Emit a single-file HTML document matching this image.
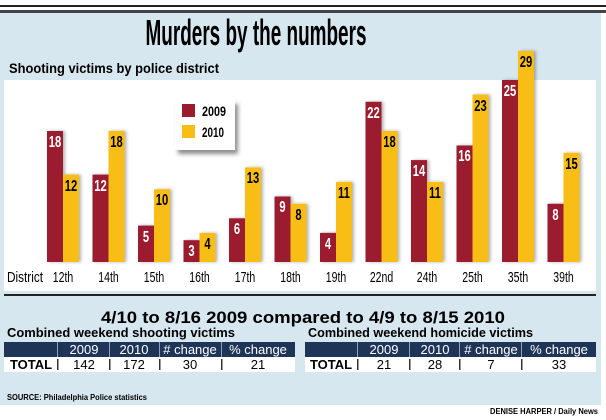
<!DOCTYPE html>
<html><head><meta charset="utf-8"><style>
body{margin:0;background:#fff}
svg{display:block}
text{font-family:"Liberation Sans",sans-serif}
.c{font-weight:bold}
.w{fill:#fff;font-weight:bold;font-size:16px;text-anchor:middle}
.k{fill:#000;font-weight:bold;font-size:16px;text-anchor:middle}
.r{fill:#9b1b2e}
.y{fill:#f9be14}
.l{font-size:15px;text-anchor:middle}
.h{font-size:13px;fill:#fff;text-anchor:middle}
.v{font-size:13px;text-anchor:middle}
</style></head><body>
<svg width="606" height="420" viewBox="0 0 606 420" xmlns="http://www.w3.org/2000/svg">
<defs>
<filter id="sh" x="-20%" y="-20%" width="160%" height="160%"><feDropShadow dx="3" dy="4" stdDeviation="2" flood-color="#000" flood-opacity="0.45"/></filter>
<filter id="bs" x="-30%" y="-10%" width="160%" height="130%"><feDropShadow dx="2" dy="0" stdDeviation="1.5" flood-color="#000" flood-opacity="0.3"/></filter>
</defs>
<rect x="0" y="5" width="606" height="2" fill="#222"/>
<rect x="0" y="10" width="606" height="3" fill="#444"/>
<rect x="0" y="13" width="601" height="392" fill="#d7e7ef"/>
<text x="256" y="45" text-anchor="middle" font-size="36" textLength="221" lengthAdjust="spacingAndGlyphs" class="c">Murders by the numbers</text>
<text x="9" y="73" font-size="14" class="c" textLength="210" lengthAdjust="spacingAndGlyphs">Shooting victims by police district</text>
<rect x="4" y="80" width="592" height="211" fill="#fff"/>
<rect x="4" y="294" width="592" height="2" fill="#222"/>
<g filter="url(#bs)">
<rect class="r" x="47" y="131" width="16" height="131"/><rect class="y" x="63" y="174.6" width="16" height="87.4"/>
<rect class="r" x="92.5" y="174.6" width="16" height="87.4"/><rect class="y" x="108.5" y="131" width="16" height="131"/>
<rect class="r" x="138" y="225.6" width="16" height="36.4"/><rect class="y" x="154" y="189.2" width="16" height="72.8"/>
<rect class="r" x="183.5" y="240.2" width="16" height="21.8"/><rect class="y" x="199.5" y="232.9" width="16" height="29.1"/>
<rect class="r" x="229" y="218.3" width="16" height="43.7"/><rect class="y" x="245" y="167.4" width="16" height="94.6"/>
<rect class="r" x="274.5" y="196.5" width="16" height="65.5"/><rect class="y" x="290.5" y="203.8" width="16" height="58.2"/>
<rect class="r" x="320" y="232.9" width="16" height="29.1"/><rect class="y" x="336" y="181.9" width="16" height="80.1"/>
<rect class="r" x="365.5" y="101.8" width="16" height="160.2"/><rect class="y" x="381.5" y="131" width="16" height="131"/>
<rect class="r" x="411" y="160.1" width="16" height="101.9"/><rect class="y" x="427" y="181.9" width="16" height="80.1"/>
<rect class="r" x="456.5" y="145.5" width="16" height="116.5"/><rect class="y" x="472.5" y="94.6" width="16" height="167.4"/>
<rect class="r" x="502" y="80" width="16" height="182"/><rect class="y" x="518" y="50.9" width="16" height="211.1"/>
<rect class="r" x="547.5" y="203.8" width="16" height="58.2"/><rect class="y" x="563.5" y="152.8" width="16" height="109.2"/>
</g>
<g transform="scale(0.7,1)">
<text class="w" x="78.6" y="147">18</text><text class="k" x="101.4" y="191">12</text>
<text class="w" x="143.6" y="191">12</text><text class="k" x="166.4" y="147">18</text>
<text class="w" x="208.6" y="242">5</text><text class="k" x="231.4" y="205">10</text>
<text class="w" x="273.6" y="256">3</text><text class="k" x="296.4" y="249">4</text>
<text class="w" x="338.6" y="234">6</text><text class="k" x="361.4" y="183">13</text>
<text class="w" x="403.6" y="212">9</text><text class="k" x="426.4" y="220">8</text>
<text class="w" x="468.6" y="249">4</text><text class="k" x="491.4" y="198">11</text>
<text class="w" x="533.6" y="118">22</text><text class="k" x="556.4" y="147">18</text>
<text class="w" x="598.6" y="176">14</text><text class="k" x="621.4" y="198">11</text>
<text class="w" x="663.6" y="161">16</text><text class="k" x="686.4" y="111">23</text>
<text class="w" x="728.6" y="96">25</text><text class="k" x="751.4" y="67">29</text>
<text class="w" x="793.6" y="220">8</text><text class="k" x="816.4" y="169">15</text>
<text class="l" x="90" y="282">12th</text><text class="l" x="155" y="282">14th</text>
<text class="l" x="220" y="282">15th</text><text class="l" x="285" y="282">16th</text>
<text class="l" x="350" y="282">17th</text><text class="l" x="415" y="282">18th</text>
<text class="l" x="480" y="282">19th</text><text class="l" x="545" y="282">22nd</text>
<text class="l" x="610" y="282">24th</text><text class="l" x="675" y="282">25th</text>
<text class="l" x="740" y="282">35th</text><text class="l" x="805" y="282">39th</text>
</g>
<rect x="175" y="100" width="60" height="50" fill="#fff" filter="url(#sh)"/>
<rect x="182" y="104" width="13" height="13" fill="#9b1b2e"/>
<rect x="182" y="125" width="13" height="13" fill="#f9be14"/>
<text x="202" y="116" font-size="14" class="c" textLength="24" lengthAdjust="spacingAndGlyphs">2009</text>
<text x="202" y="137" font-size="14" class="c" textLength="22" lengthAdjust="spacingAndGlyphs">2010</text>
<text x="7" y="282" font-size="15" textLength="36" lengthAdjust="spacingAndGlyphs">District</text>
<text x="303" y="323" text-anchor="middle" font-size="17" class="c" textLength="404" lengthAdjust="spacingAndGlyphs">4/10 to 8/16 2009 compared to 4/9 to 8/15 2010</text>
<text x="7" y="337" font-size="13" class="c" textLength="228" lengthAdjust="spacingAndGlyphs">Combined weekend shooting victims</text>
<text x="308" y="337" font-size="13" class="c" textLength="225" lengthAdjust="spacingAndGlyphs">Combined weekend homicide victims</text>
<rect x="4" y="342" width="291" height="15" fill="#1f3558"/><rect x="4" y="357" width="291" height="15" fill="#fff"/>
<rect x="305" y="342" width="291" height="15" fill="#1f3558"/><rect x="305" y="357" width="291" height="15" fill="#fff"/>
<g fill="#8fa0bb">
<rect x="57" y="342" width="1" height="15"/><rect x="109" y="342" width="1" height="15"/><rect x="159" y="342" width="1" height="15"/><rect x="221" y="342" width="1" height="15"/>
<rect x="357" y="342" width="1" height="15"/><rect x="409" y="342" width="1" height="15"/><rect x="459" y="342" width="1" height="15"/><rect x="521" y="342" width="1" height="15"/>
</g>
<g fill="#333">
<rect x="57" y="359" width="1.5" height="11"/><rect x="109" y="359" width="1.5" height="11"/><rect x="159" y="359" width="1.5" height="11"/><rect x="221" y="359" width="1.5" height="11"/>
<rect x="357" y="359" width="1.5" height="11"/><rect x="409" y="359" width="1.5" height="11"/><rect x="459" y="359" width="1.5" height="11"/><rect x="521" y="359" width="1.5" height="11"/>
</g>
<text class="h" x="84" y="354">2009</text><text class="h" x="134" y="354">2010</text><text class="h" x="190" y="354"># change</text><text class="h" x="258" y="354">% change</text>
<text class="v c" x="31" y="369">TOTAL</text><text class="v" x="84" y="369">142</text><text class="v" x="134" y="369">172</text><text class="v" x="190" y="369">30</text><text class="v" x="258" y="369">21</text>
<text class="h" x="384" y="354">2009</text><text class="h" x="435" y="354">2010</text><text class="h" x="491" y="354"># change</text><text class="h" x="559" y="354">% change</text>
<text class="v c" x="331" y="369">TOTAL</text><text class="v" x="384" y="369">21</text><text class="v" x="435" y="369">28</text><text class="v" x="491" y="369">7</text><text class="v" x="559" y="369">33</text>
<text x="7" y="400" font-size="8" class="c" textLength="140" lengthAdjust="spacingAndGlyphs">SOURCE: Philadelphia Police statistics</text>
<text x="598" y="414" text-anchor="end" font-size="8" class="c" textLength="108" lengthAdjust="spacingAndGlyphs">DENISE HARPER / Daily News</text>
</svg>
</body></html>
